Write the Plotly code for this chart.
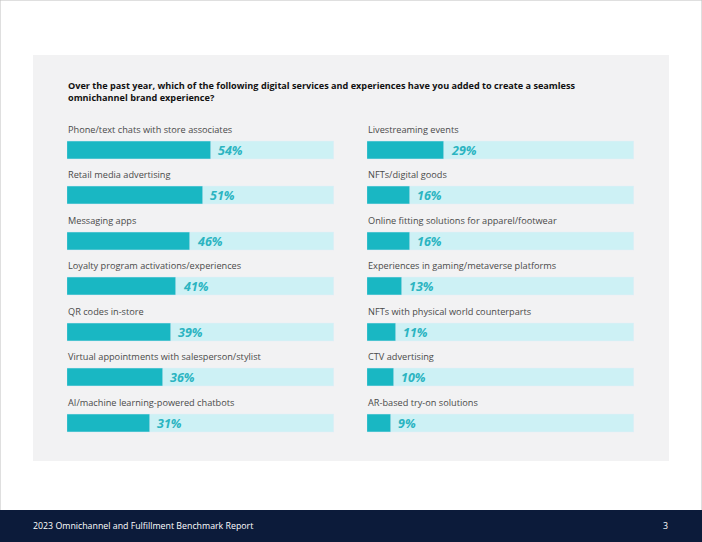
import plotly.graph_objects as go

left_cats = ["Phone/text chats with store associates", "Retail media advertising", "Messaging apps",
             "Loyalty program activations/experiences", "QR codes in-store",
             "Virtual appointments with salesperson/stylist", "AI/machine learning-powered chatbots"]
left_vals = [54, 51, 46, 41, 39, 36, 31]
right_cats = ["Livestreaming events", "NFTs/digital goods", "Online fitting solutions for apparel/footwear",
              "Experiences in gaming/metaverse platforms", "NFTs with physical world counterparts",
              "CTV advertising", "AR-based try-on solutions"]
right_vals = [29, 16, 16, 13, 11, 10, 9]
title = ("Over the past year, which of the following digital services and experiences have you added to create a seamless<br>"
         "omnichannel brand experience?")
footer = "2023 Omnichannel and Fulfillment Benchmark Report"
page_no = "3"

W, H = 702, 542
TEAL = "#19b7c3"
LIGHT = "#cdf1f5"
PCT = "#2bb4c1"
LABEL = "#4a4a4a"
FONT = "Open Sans"

fig = go.Figure()

def px_x(p):
    return p / W

def px_y(p):
    return 1 - p / H

row_top_center = 150
row_gap = 45.5
ytop = row_top_center - row_gap / 2
ybot = ytop + 7 * row_gap
bar_w = 18 / row_gap

for idx, (cats, vals) in enumerate([(left_cats, left_vals), (right_cats, right_vals)]):
    xa = "x" if idx == 0 else "x2"
    ya = "y" if idx == 0 else "y2"
    rows = list(range(len(cats)))
    fig.add_trace(go.Bar(x=[100] * len(cats), y=rows, orientation="h", marker_color=LIGHT,
                         width=bar_w, xaxis=xa, yaxis=ya, hoverinfo="skip", showlegend=False))
    fig.add_trace(go.Bar(x=vals, y=rows, orientation="h", marker_color=TEAL, width=bar_w,
                         xaxis=xa, yaxis=ya, customdata=cats,
                         hovertemplate="%{customdata}: %{x}%<extra></extra>", showlegend=False))
    for r, c, v in zip(rows, cats, vals):
        fig.add_annotation(x=0, y=r, xref=xa, yref=ya, text=c, showarrow=False, xanchor="left",
                           yanchor="middle", yshift=21, xshift=-1,
                           font=dict(family=FONT, size=9.2, color=LABEL))
        fig.add_annotation(x=v, y=r, xref=xa, yref=ya, text=f"<b><i>{v}%</i></b>", showarrow=False,
                           xanchor="left", yanchor="middle", xshift=5,
                           font=dict(family=FONT, size=12.5, color=PCT))

axis_common = dict(range=[0, 100], showgrid=False, zeroline=False, showticklabels=False, fixedrange=True)
yaxis_common = dict(range=[6.5, -0.5], showgrid=False, zeroline=False, showticklabels=False, fixedrange=True,
                    domain=[px_y(ybot), px_y(ytop)])

fig.update_layout(
    width=W, height=H, margin=dict(l=0, r=0, t=0, b=0),
    paper_bgcolor="white", plot_bgcolor="rgba(0,0,0,0)",
    barmode="overlay", bargap=0,
    xaxis=dict(domain=[px_x(67), px_x(334)], **axis_common),
    xaxis2=dict(domain=[px_x(367), px_x(634)], anchor="y2", **axis_common),
    yaxis=dict(anchor="x", **yaxis_common),
    yaxis2=dict(anchor="x2", **yaxis_common),
    shapes=[
        dict(type="rect", xref="paper", yref="paper", x0=0, x1=1, y0=0, y1=1,
             line=dict(color="#bfbfbf", width=1), fillcolor="white", layer="below"),
        dict(type="rect", xref="paper", yref="paper", x0=px_x(33), x1=px_x(669), y0=px_y(461), y1=px_y(55),
             line=dict(width=0), fillcolor="#f2f2f3", layer="below"),
        dict(type="rect", xref="paper", yref="paper", x0=0, x1=1, y0=0, y1=px_y(510),
             line=dict(width=0), fillcolor="#0c1b3a", layer="below"),
    ],
    annotations=list(fig.layout.annotations) + [
        dict(xref="paper", yref="paper", x=px_x(66), y=px_y(77), xanchor="left", yanchor="top", align="left",
             text=f"<b>{title}</b>", showarrow=False, font=dict(family=FONT, size=9.15, color="#111111")),
        dict(xref="paper", yref="paper", x=px_x(31), y=px_y(526), xanchor="left", yanchor="middle",
             text=footer, showarrow=False, font=dict(family=FONT, size=8.8, color="white")),
        dict(xref="paper", yref="paper", x=px_x(670), y=px_y(526), xanchor="right", yanchor="middle",
             text=page_no, showarrow=False, font=dict(family=FONT, size=8.8, color="white")),
    ],
)

fig.write_html("out.html", config={"displayModeBar": False},
               post_script="document.body.style.margin='0';document.body.style.overflow='hidden';")
